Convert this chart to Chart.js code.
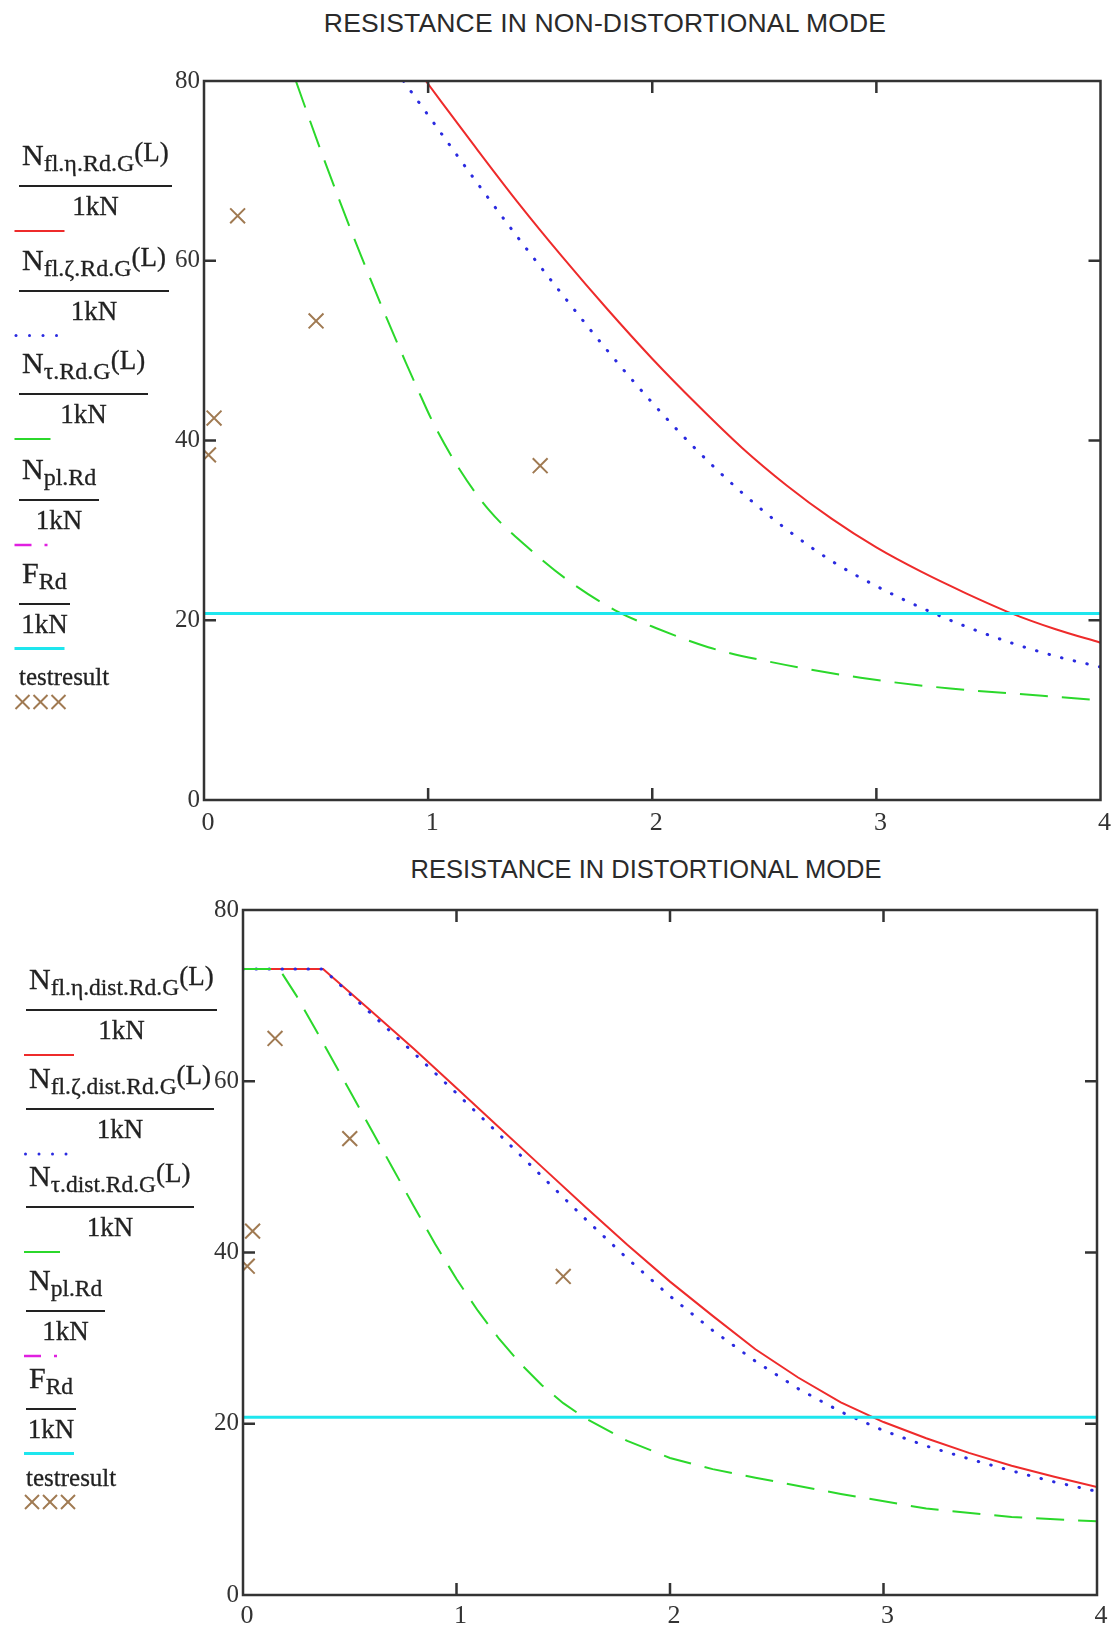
<!DOCTYPE html>
<html>
<head>
<meta charset="utf-8">
<script src="https://cdn.jsdelivr.net/npm/chart.js@4"></script>
<style>
  html, body { margin: 0; padding: 0; background: #fff; }
  #page { position: relative; width: 1115px; height: 1627px; overflow: hidden; background: #fff; }
  canvas { position: absolute; left: 0; }
  .title { position: absolute; font-family: "Liberation Sans", Arial, sans-serif;
           color: #2a2a2a; white-space: nowrap; transform: translateX(-50%); }
  .leg { position: absolute; font-family: "Liberation Serif", "Times New Roman", serif; color: #222;
         white-space: nowrap; -webkit-text-stroke: 0.3px #222; }
  .num { font-size: 30px; line-height: 30px; padding: 0 3px; }
  .num .sub { font-size: 24px; position: relative; top: 6px; }
  .num .sup { font-size: 27px; position: relative; top: -4px; }
  .num.long .sub { font-size: 23.5px; }
  .bar { position: absolute; height: 2px; background: #222; }
  .den { font-size: 27px; line-height: 27px; text-align: center; }
  .note { font-size: 25px; line-height: 25px; }
  #marks { position: absolute; left: 0; top: 0; }
</style>
</head>
<body>
<div id="page">
  <div class="title" style="left:605px; top:10px; font-size:26.5px; line-height:26px; letter-spacing:0.15px;">RESISTANCE IN NON-DISTORTIONAL MODE</div>
  <div class="title" style="left:646px; top:856px; font-size:25.5px; line-height:26px;">RESISTANCE IN DISTORTIONAL MODE</div>
  <canvas id="topChart" width="1115" height="850" style="top:0px; width:1115px; height:850px;"></canvas>
  <canvas id="botChart" width="1115" height="747" style="top:880px; width:1115px; height:747px;"></canvas>
  <svg id="marks" width="1115" height="1627"></svg>
</div>
<script>
// ---- axes ----
const xTickValues = [0, 1, 2, 3, 4];
const yTickValues = [0, 20, 40, 60, 80];

// ---- non-distortional mode (L in m, resistance in kN) ----
const flEtaX = [0.99, 1.2, 1.4, 1.6, 1.8, 2.0, 2.2, 2.4, 2.6, 2.8, 3.0, 3.2, 3.4, 3.6, 3.8, 4.0];
const flEtaY = [80.0, 73.0, 66.5, 60.4, 54.6, 49.1, 44.0, 39.2, 35.0, 31.3, 28.1, 25.4, 23.0, 20.8, 19.0, 17.5];

const flZetaX = [0.89, 1.0, 1.2, 1.4, 1.6, 1.8, 2.0, 2.2, 2.4, 2.6, 2.8, 3.0, 3.2, 3.4, 3.6, 3.8, 4.0];
const flZetaY = [80.0, 76.2, 69.3, 62.6, 56.2, 50.0, 44.2, 38.9, 34.2, 30.1, 26.6, 23.8, 21.4, 19.3, 17.5, 16.0, 14.8];

const tauX = [0.41, 0.5, 0.6, 0.7, 0.8, 0.9, 0.95, 1.02, 1.14, 1.27, 1.44, 1.61, 1.85, 2.0, 2.25, 2.52, 2.93, 3.33, 3.74, 4.0];
const tauY = [80.0, 73.7, 67.0, 60.6, 54.5, 48.7, 45.9, 42.1, 36.8, 32.3, 28.2, 24.7, 20.9, 19.3, 17.0, 15.4, 13.6, 12.4, 11.6, 11.1];

// ---- distortional mode ----
const flEtaDistX = [0, 0.375, 0.6, 0.8, 1.0, 1.2, 1.4, 1.6, 1.8, 2.0, 2.2, 2.4, 2.6, 2.8, 3.0, 3.2, 3.4, 3.6, 3.8, 4.0];
const flEtaDistY = [73.1, 73.1, 68.2, 63.8, 59.2, 54.6, 50.0, 45.4, 40.9, 36.6, 32.6, 28.7, 25.4, 22.5, 20.2, 18.3, 16.6, 15.1, 13.8, 12.6];

const flZetaDistX = [0, 0.375, 0.6, 0.8, 1.0, 1.2, 1.4, 1.6, 1.8, 2.0, 2.2, 2.4, 2.6, 2.8, 3.0, 3.2, 3.4, 3.6, 3.8, 4.0];
const flZetaDistY = [73.1, 73.1, 67.9, 63.3, 58.6, 53.8, 48.9, 44.0, 39.3, 34.9, 30.9, 27.3, 24.1, 21.4, 19.2, 17.4, 15.9, 14.5, 13.2, 12.1];

const tauDistX = [0, 0.17, 0.25, 0.35, 0.5, 0.6, 0.7, 0.8, 0.9, 1.0, 1.1, 1.2, 1.3, 1.4, 1.5, 1.6, 1.8, 2.0, 2.2, 2.4, 2.8, 3.2, 3.6, 4.0];
const tauDistY = [73.1, 73.1, 70.0, 65.6, 58.9, 54.4, 49.9, 45.4, 41.0, 36.9, 33.2, 29.9, 27.0, 24.5, 22.4, 20.7, 18.0, 16.0, 14.7, 13.7, 11.8, 10.1, 9.1, 8.6];

// ---- design load and tests ----
const F_Rd = 20.75;
const testX = [0.02, 0.045, 0.15, 0.5, 1.5];
const testY = [38.4, 42.5, 65.0, 53.3, 37.2];

// ---- colours ----
const RED = '#ee2b2b', BLUE = '#2a2ae0', GREEN = '#2bd82b', MAGENTA = '#e020e0', CYAN = '#1ee6ee', BROWN = '#a07a52';
const SERIF = '"Liberation Serif", "Times New Roman", serif';

const pts = (xs, ys) => xs.map((x, i) => ({ x, y: ys[i] }));

// smooth curves for the plain resistance, straight segments where a plateau caps the curve
function curveSets(etaX, etaY, zetaX, zetaY, tX, tY, smooth) {
  const base = { showLine: true, pointRadius: 0, fill: false, tension: 0 };
  if (smooth) base.cubicInterpolationMode = 'monotone';
  return [
    { label: 'testresult', data: pts(testX, testY), showLine: false, pointStyle: 'crossRot',
      pointRadius: 10.5, pointBorderWidth: 2, pointBorderColor: BROWN, borderColor: BROWN, pointBackgroundColor: BROWN, clip: 0 },
    { ...base, label: 'F_Rd', data: pts([0, 4], [F_Rd, F_Rd]), borderColor: CYAN, borderWidth: 3 },
    { ...base, label: 'N_tau', data: pts(tX, tY), borderColor: GREEN, borderWidth: 2, borderDash: [28, 14] },
    { ...base, label: 'N_zeta', data: pts(zetaX, zetaY), borderColor: BLUE, borderWidth: 3,
      borderDash: [0.5, 12.5], borderCapStyle: 'round' },
    { ...base, label: 'N_eta', data: pts(etaX, etaY), borderColor: RED, borderWidth: 2 }
  ];
}

// box frame with inward tick marks on all four sides
const framePlugin = {
  id: 'frame',
  afterDatasetsDraw(chart) {
    const { ctx, chartArea: a, scales: { x, y } } = chart;
    const L = 12;
    ctx.save();
    ctx.strokeStyle = '#333';
    ctx.lineWidth = 2.5;
    ctx.strokeRect(a.left, a.top, a.right - a.left, a.bottom - a.top);
    ctx.beginPath();
    xTickValues.slice(1, -1).forEach(v => {
      const px = x.getPixelForValue(v);
      ctx.moveTo(px, a.bottom); ctx.lineTo(px, a.bottom - L);
      ctx.moveTo(px, a.top); ctx.lineTo(px, a.top + L);
    });
    yTickValues.slice(1, -1).forEach(v => {
      const py = y.getPixelForValue(v);
      ctx.moveTo(a.left, py); ctx.lineTo(a.left + L, py);
      ctx.moveTo(a.right, py); ctx.lineTo(a.right - L, py);
    });
    ctx.stroke();
    ctx.restore();
  }
};

function makeChart(id, datasets, g) {
  return new Chart(document.getElementById(id), {
    type: 'scatter',
    data: { datasets },
    options: {
      responsive: false, animation: false, devicePixelRatio: 1,
      layout: { autoPadding: false, padding: { left: 0, right: g.right, top: g.top, bottom: 0 } },
      plugins: { legend: { display: false }, tooltip: { enabled: false } },
      scales: {
        x: {
          type: 'linear', min: xTickValues[0], max: xTickValues[xTickValues.length - 1],
          grid: { display: false, drawTicks: false }, border: { display: false },
          ticks: { font: { family: SERIF, size: 26 }, color: '#333', padding: g.xpad, labelOffset: 4,
                   autoSkip: false, maxRotation: 0 },
          afterBuildTicks: s => { s.ticks = xTickValues.map(v => ({ value: v })); },
          afterFit: s => { s.height = g.xh; }
        },
        y: {
          type: 'linear', min: yTickValues[0], max: yTickValues[yTickValues.length - 1],
          grid: { display: false, drawTicks: false }, border: { display: false },
          ticks: { font: { family: SERIF, size: 25 }, color: '#333', padding: 4, autoSkip: false },
          afterBuildTicks: s => { s.ticks = yTickValues.map(v => ({ value: v })); },
          afterFit: s => { s.width = g.yw; }
        }
      }
    },
    plugins: [framePlugin]
  });
}

makeChart('topChart', curveSets(flEtaX, flEtaY, flZetaX, flZetaY, tauX, tauY, true),
          { top: 81, right: 12, xh: 50, yw: 204, xpad: 8 });
makeChart('botChart', curveSets(flEtaDistX, flEtaDistY, flZetaDistX, flZetaDistY, tauDistX, tauDistY, false),
          { top: 30, right: 18, xh: 32, yw: 243, xpad: 6 });

// ---- side legends: fraction labels with line samples ----
const page = document.getElementById('page');
const svg = document.getElementById('marks');
const NS = 'http://www.w3.org/2000/svg';

function svgEl(tag, attrs) {
  const e = document.createElementNS(NS, tag);
  for (const k in attrs) e.setAttribute(k, attrs[k]);
  svg.appendChild(e);
  return e;
}

function sample(kind, x0, y) {
  if (kind === 'solid-red') svgEl('line', { x1: x0, y1: y, x2: x0 + 50, y2: y, stroke: RED, 'stroke-width': 2 });
  if (kind === 'dot-blue') [1.5, 15, 28.5, 42].forEach(d => svgEl('circle', { cx: x0 + d, cy: y, r: 1.5, fill: BLUE }));
  if (kind === 'solid-green') svgEl('line', { x1: x0, y1: y, x2: x0 + 36, y2: y, stroke: GREEN, 'stroke-width': 2 });
  if (kind === 'dashdot-magenta') {
    svgEl('line', { x1: x0, y1: y, x2: x0 + 17, y2: y, stroke: MAGENTA, 'stroke-width': 2.5 });
    svgEl('line', { x1: x0 + 30, y1: y, x2: x0 + 33, y2: y, stroke: MAGENTA, 'stroke-width': 2.5 });
  }
  if (kind === 'solid-cyan') svgEl('line', { x1: x0, y1: y, x2: x0 + 50, y2: y, stroke: CYAN, 'stroke-width': 3 });
  if (kind === 'cross-brown') [8, 26, 44].forEach(c => {
    svgEl('line', { x1: x0 + c - 7, y1: y - 7, x2: x0 + c + 7, y2: y + 7, stroke: BROWN, 'stroke-width': 2 });
    svgEl('line', { x1: x0 + c - 7, y1: y + 7, x2: x0 + c + 7, y2: y - 7, stroke: BROWN, 'stroke-width': 2 });
  });
}

function legendItem(left, T, sym, sub, sup, kind, sampleX, extraClass) {
  const num = document.createElement('div');
  num.className = 'leg num' + (extraClass ? ' ' + extraClass : '');
  num.style.left = left + 'px';
  num.style.top = (T - 5) + 'px';
  num.innerHTML = sym + '<span class="sub">' + sub + '</span>' + (sup ? '<span class="sup">' + sup + '</span>' : '');
  page.appendChild(num);
  const w = num.offsetWidth;
  const bar = document.createElement('div');
  bar.className = 'bar';
  bar.style.left = left + 'px';
  bar.style.top = (T + 40) + 'px';
  bar.style.width = w + 'px';
  page.appendChild(bar);
  const den = document.createElement('div');
  den.className = 'leg den';
  den.style.left = left + 'px';
  den.style.width = w + 'px';
  den.style.top = (T + 48) + 'px';
  den.textContent = '1kN';
  page.appendChild(den);
  sample(kind, sampleX, T + 86);
}

function note(left, top, sampleX, y) {
  const n = document.createElement('div');
  n.className = 'leg note';
  n.style.left = left + 'px';
  n.style.top = top + 'px';
  n.textContent = 'testresult';
  page.appendChild(n);
  sample('cross-brown', sampleX, y);
}

const topLegend = [
  ['N', 'fl.η.Rd.G', '(L)', 'solid-red'],
  ['N', 'fl.ζ.Rd.G', '(L)', 'dot-blue'],
  ['N', 'τ.Rd.G', '(L)', 'solid-green'],
  ['N', 'pl.Rd', '', 'dashdot-magenta'],
  ['F', 'Rd', '', 'solid-cyan']
];
const topLegendT = [145, 249.5, 353, 459, 562.5];
topLegend.forEach((it, i) => legendItem(19, topLegendT[i], it[0], it[1], it[2], it[3], 14.5));
note(19, 664, 14.5, 702);

const botLegend = [
  ['N', 'fl.η.dist.Rd.G', '(L)', 'solid-red'],
  ['N', 'fl.ζ.dist.Rd.G', '(L)', 'dot-blue'],
  ['N', 'τ.dist.Rd.G', '(L)', 'solid-green'],
  ['N', 'pl.Rd', '', 'dashdot-magenta'],
  ['F', 'Rd', '', 'solid-cyan']
];
const botLegendT = [969, 1068, 1166, 1270, 1367.5];
botLegend.forEach((it, i) => legendItem(26, botLegendT[i], it[0], it[1], it[2], it[3], 24, 'long'));
note(26, 1465, 24, 1502);
</script>
</body>
</html>
